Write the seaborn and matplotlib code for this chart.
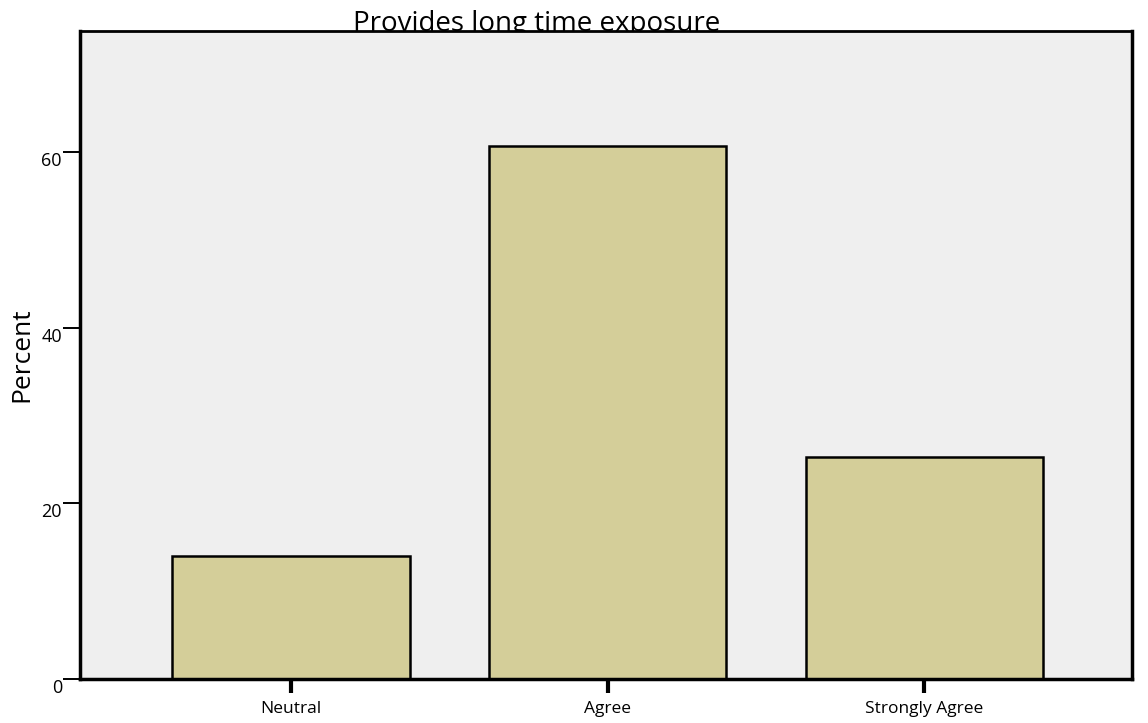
import matplotlib
matplotlib.use("Agg")
import matplotlib.pyplot as plt
import seaborn as sns
import pandas as pd

categories = ["Neutral", "Agree", "Strongly Agree"]
percent = [14.0, 60.7, 25.3]
y_ticks = [0, 20, 40, 60]
title = "Provides long time exposure"

sns.set_style("white")
plt.rcParams['font.family'] = ['Open Sans', 'DejaVu Sans']

df = pd.DataFrame({"category": categories, "percent": percent})

fig = plt.figure(figsize=(11.48, 7.23), dpi=100)
ax = fig.add_axes([80/1148, 1 - 679/723, (1132-80)/1148, (679-31)/723])
ax.set_zorder(1)
ax.set_facecolor("#EFEFEF")

sns.barplot(data=df, x="category", y="percent", color="#D4CE99", width=0.75,
            edgecolor="black", linewidth=1.8, saturation=1, ax=ax)

ax.set_xlim(-0.665, 2.655)
ax.set_ylim(0, 73.8)
ax.set_yticks(y_ticks)
ax.set_yticklabels([str(t) for t in y_ticks], fontsize=13, color="black")
ax.set_xticks(range(len(categories)))
ax.set_xticklabels(categories, fontsize=12.5, color="black")
ax.set_xlabel("")
ax.set_ylabel("Percent", fontsize=19, color="black", labelpad=5)

for s in ax.spines.values():
    s.set_visible(True)
    s.set_color("black")
ax.spines["left"].set_linewidth(2.5)
ax.spines["bottom"].set_linewidth(2.5)
ax.spines["top"].set_linewidth(2.0)
ax.spines["right"].set_linewidth(2.5)

ax.tick_params(axis="y", left=True, direction="out", length=12, width=1.4, pad=1, colors="black")
ax.tick_params(axis="x", bottom=True, direction="out", length=10, width=3, pad=6, colors="black")
for lab in ax.get_yticklabels():
    lab.set_verticalalignment("top")

fig.text(537/1148, 1 - 31/723, title, ha="center", va="baseline", fontsize=20,
         color="black", zorder=0.5)

fig.savefig("out.png", dpi=100)
